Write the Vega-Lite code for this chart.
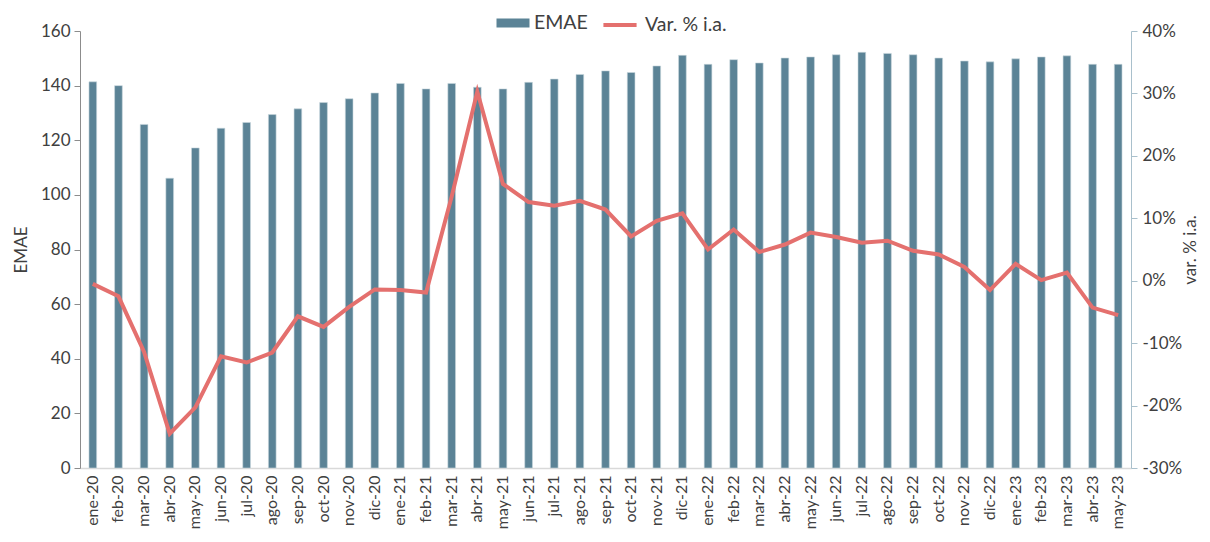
{
  "$schema": "https://vega.github.io/schema/vega-lite/v6.json",
  "width": 1051,
  "height": 437,
  "autosize": {"type": "none"},
  "padding": {"left": 80, "top": 31, "right": 79, "bottom": 74},
  "background": "white",
  "config": {
    "view": {"stroke": null},
    "font": "Lato",
    "axis": {"labelFont": "Lato", "titleFont": "Lato", "labelColor": "#404040", "titleColor": "#404040", "grid": false, "titleFontWeight": "normal"},
    "legend": {"labelFont": "Lato", "labelColor": "#404040", "labelFontSize": 19.5}
  },
  "data": {
    "values": [
      {"m": "ene-20", "emae": 141.4, "var": -0.5},
      {"m": "feb-20", "emae": 140.0, "var": -2.5},
      {"m": "mar-20", "emae": 125.8, "var": -11.4},
      {"m": "abr-20", "emae": 106.1, "var": -24.5},
      {"m": "may-20", "emae": 117.2, "var": -20.3},
      {"m": "jun-20", "emae": 124.4, "var": -12.1},
      {"m": "jul-20", "emae": 126.5, "var": -13.1},
      {"m": "ago-20", "emae": 129.4, "var": -11.5},
      {"m": "sep-20", "emae": 131.5, "var": -5.7},
      {"m": "oct-20", "emae": 133.8, "var": -7.4},
      {"m": "nov-20", "emae": 135.2, "var": -4.2},
      {"m": "dic-20", "emae": 137.3, "var": -1.4},
      {"m": "ene-21", "emae": 140.8, "var": -1.5},
      {"m": "feb-21", "emae": 138.8, "var": -1.9},
      {"m": "mar-21", "emae": 140.8, "var": 13.5},
      {"m": "abr-21", "emae": 139.4, "var": 30.3},
      {"m": "may-21", "emae": 138.8, "var": 15.5},
      {"m": "jun-21", "emae": 141.2, "var": 12.6},
      {"m": "jul-21", "emae": 142.4, "var": 12.0},
      {"m": "ago-21", "emae": 144.1, "var": 12.8},
      {"m": "sep-21", "emae": 145.4, "var": 11.4},
      {"m": "oct-21", "emae": 144.8, "var": 7.1},
      {"m": "nov-21", "emae": 147.2, "var": 9.6},
      {"m": "dic-21", "emae": 151.1, "var": 10.8},
      {"m": "ene-22", "emae": 147.8, "var": 5.0},
      {"m": "feb-22", "emae": 149.5, "var": 8.2},
      {"m": "mar-22", "emae": 148.3, "var": 4.6},
      {"m": "abr-22", "emae": 150.1, "var": 5.8},
      {"m": "may-22", "emae": 150.5, "var": 7.7},
      {"m": "jun-22", "emae": 151.3, "var": 7.0},
      {"m": "jul-22", "emae": 152.2, "var": 6.1},
      {"m": "ago-22", "emae": 151.8, "var": 6.4},
      {"m": "sep-22", "emae": 151.3, "var": 4.8},
      {"m": "oct-22", "emae": 150.1, "var": 4.2},
      {"m": "nov-22", "emae": 149.0, "var": 2.2},
      {"m": "dic-22", "emae": 148.7, "var": -1.5},
      {"m": "ene-23", "emae": 149.8, "var": 2.7},
      {"m": "feb-23", "emae": 150.5, "var": 0.1},
      {"m": "mar-23", "emae": 150.9, "var": 1.3},
      {"m": "abr-23", "emae": 147.8, "var": -4.3},
      {"m": "may-23", "emae": 147.8, "var": -5.5}
    ]
  },
  "encoding": {
    "x": {
      "field": "m", "type": "ordinal", "sort": null,
      "scale": {"paddingInner": 0.7, "paddingOuter": 0.35},
      "axis": {"title": null, "labelAngle": -90, "labelFontSize": 16, "ticks": false, "labelPadding": 7, "domainColor": "#D9D9D9", "domainWidth": 1.5, "labelBaseline": "middle", "labelAlign": "right"}
    }
  },
  "layer": [
    {
      "mark": {"type": "bar", "color": "#5B8396", "stroke": "#C9D7DE", "strokeWidth": 0.6},
      "transform": [{"calculate": "'EMAE'", "as": "s1"}],
      "encoding": {
        "y": {"field": "emae", "type": "quantitative", "scale": {"domain": [0, 160]},
          "axis": {"title": "EMAE", "titleFontSize": 17, "labelFontSize": 17, "values": [0,20,40,60,80,100,120,140,160], "domainColor": "#8C8C8C", "tickColor": "#8C8C8C", "tickSize": 6, "labelPadding": 4, "titlePadding": 10}},
        "fill": {"field": "s1", "type": "nominal", "scale": {"domain": ["EMAE"], "range": ["#5B8396"]},
          "legend": {"title": null, "orient": "none", "legendX": 423, "legendY": -18, "symbolType": "M-1.65,-0.45H1.65V0.45H-1.65Z", "symbolSize": 400, "symbolStrokeWidth": 0, "labelOffset": 11}}
      }
    },
    {
      "mark": {"type": "line", "color": "#E4706E", "strokeWidth": 4},
      "transform": [{"calculate": "'Var. % i.a.'", "as": "s2"}],
      "encoding": {
        "y": {"field": "var", "type": "quantitative", "scale": {"domain": [-30, 40]},
          "axis": {"orient": "right", "title": "var. % i.a.", "titleAngle": 270, "titleFontSize": 17, "labelFontSize": 17, "values": [-30,-20,-10,0,10,20,30,40], "labelExpr": "datum.value + '%'", "domainColor": "#A9C0CC", "tickColor": "#A9C0CC", "tickSize": 6, "labelPadding": 5, "titlePadding": 18}},
        "stroke": {"field": "s2", "type": "nominal", "scale": {"domain": ["Var. % i.a."], "range": ["#E4706E"]},
          "legend": {"title": null, "orient": "none", "legendX": 521, "legendY": -25, "symbolType": "stroke", "symbolStrokeWidth": 4, "symbolSize": 1100, "labelOffset": 6}}
      }
    }
  ],
  "resolve": {"scale": {"y": "independent", "fill": "independent", "stroke": "independent"}}
}
